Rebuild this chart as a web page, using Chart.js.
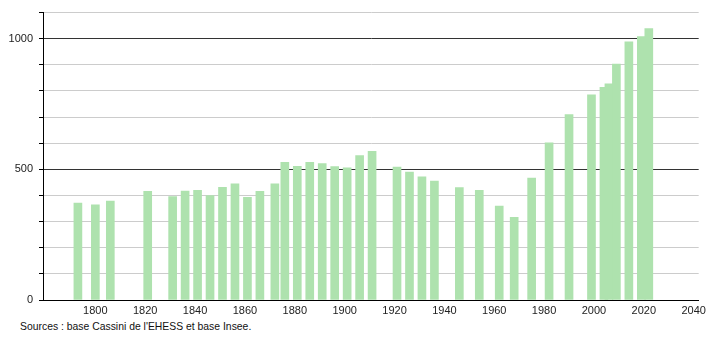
<!DOCTYPE html>
<html>
<head>
<meta charset="utf-8">
<script src="https://cdn.jsdelivr.net/npm/chart.js@4/dist/chart.umd.min.js"></script>
<style>
  body { margin: 0; background: #fff; }
  #wrap { position: relative; width: 710px; height: 340px; }
  #box { position: absolute; left: 0; top: 0; width: 710px; height: 320px; }
  #sources { position: absolute; left: 20px; top: 321px; font: 10.4px "Liberation Sans", Arial, sans-serif; color: #111; }
</style>
</head>
<body>
<div id="wrap">
  <div id="box"><canvas id="pop"></canvas></div>
  <div id="sources">Sources : base Cassini de l'EHESS et base Insee.</div>
</div>
<script>
// Années de recensement et population
const years = [1793, 1800, 1806, 1821, 1831, 1836, 1841, 1846, 1851, 1856, 1861, 1866, 1872, 1876, 1881, 1886, 1891, 1896, 1901, 1906, 1911,
               1921, 1926, 1931, 1936, 1946, 1954, 1962, 1968, 1975, 1982, 1990, 1999, 2004, 2006, 2009, 2014, 2019, 2022];
const population = [371, 364, 379, 416, 396, 417, 420, 400, 431, 445, 393, 416, 445, 527, 512, 527, 522, 511, 506, 553, 569,
                    509, 490, 471, 455, 430, 420, 359, 316, 467, 602, 710, 785, 814, 827, 903, 988, 1008, 1039];
const xTicks = [1800, 1820, 1840, 1860, 1880, 1900, 1920, 1940, 1960, 1980, 2000, 2020, 2040];
const yLabels = [0, 500, 1000];

const font = { family: '"Liberation Sans", Arial, sans-serif', size: 11 };

new Chart(document.getElementById('pop'), {
    type: 'bar',
    data: {
        datasets: [{
            data: years.map((y, i) => ({ x: y, y: population[i] })),
            backgroundColor: '#aee2ae',
            borderWidth: 0,
            barThickness: 8
        }]
    },
    options: {
        responsive: true,
        maintainAspectRatio: false,
        animation: false,
        layout: { padding: { left: 0, right: 10, top: 5, bottom: 0 } },
        plugins: { legend: { display: false }, tooltip: { enabled: false } },
        scales: {
            x: {
                type: 'linear',
                offset: false,
                min: 1779,
                max: 2042,
                afterBuildTicks: (scale) => { scale.ticks = xTicks.map(v => ({ value: v })); },
                afterFit: (scale) => { scale.height = 20; },
                grid: { display: false, drawTicks: false, offset: false },
                border: { display: true, color: '#000', width: 1 },
                ticks: { font, color: '#222', padding: 4, maxRotation: 0, callback: v => String(v) }
            },
            y: {
                min: 0,
                max: 1100,
                afterFit: (scale) => { scale.width = 43; },
                grid: {
                    color: (ctx) => (ctx.tick && ctx.tick.value % 500 === 0) ? '#333' : '#ccc',
                    tickColor: '#000',
                    tickLength: 4
                },
                border: { display: true, color: '#000', width: 1 },
                ticks: {
                    stepSize: 100,
                    font, color: '#222', padding: 6,
                    callback: v => yLabels.includes(v) ? String(v) : ''
                }
            }
        }
    }
});
</script>
</body>
</html>
